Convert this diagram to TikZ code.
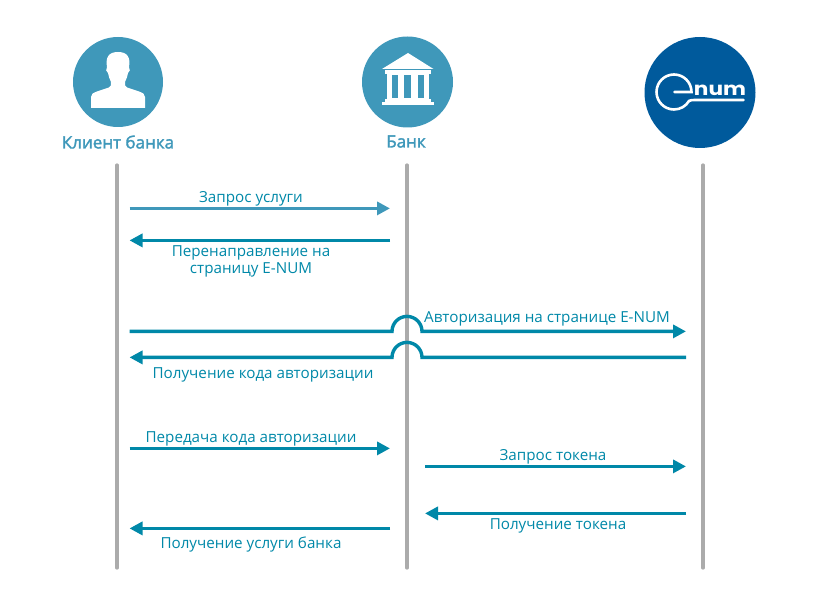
\documentclass[tikz,border=0pt]{standalone}
\usepackage{fontspec}
\setmainfont{Open Sans}
\newfontfamily\logofont{Poppins}
\newfontfamily\headfont[FakeBold=2]{Open Sans}
\usetikzlibrary{arrows.meta}
\definecolor{headblue}{HTML}{3F98BA}
\definecolor{flowteal}{HTML}{0088A8}
\definecolor{enumblue}{HTML}{005A9C}
\definecolor{lifegray}{HTML}{ABABAB}
\tikzset{
  lifeline/.style={draw=lifegray,line width=3.2pt,line cap=round},
  flow/.style={draw=flowteal,line width=3.4pt,-{Triangle[length=13pt,width=13pt]}},
  flowlight/.style={draw=headblue,line width=3.4pt,-{Triangle[length=13pt,width=13pt]}},
  msg/.style={text=flowteal,font=\fontsize{15.2}{16.5}\selectfont,align=center,inner sep=0pt},
  head/.style={text=headblue,font=\headfont\fontsize{17}{20}\selectfont,inner sep=0pt},
  disc/.style={circle,inner sep=0pt,minimum size=#1},
}
\begin{document}
\begin{tikzpicture}[x=1pt,y=-1pt]
\useasboundingbox (0,0) rectangle (840,612);
% heads
\node[disc=90pt,fill=headblue] (client) at (118,82) {};
\node[disc=91pt,fill=headblue] (bank) at (407.5,82) {};
\node[disc=111pt,fill=enumblue] (enum) at (700,92.5) {};
\node[head] (clientlabel) at (118,142) {Клиент банка};
\node[head] (banklabel) at (406,141.5) {Банк};
% person icon
\fill[white] (91,108) -- (91,97) .. controls (91,94) and (93,93) .. (97,91.5)
  -- (109,87.5) .. controls (111,86.5) and (111.3,85) .. (111,82)
  .. controls (109.5,79) and (108.5,76) .. (108,73)
  .. controls (106,72) and (105.5,69) .. (107,67)
  .. controls (105.5,58) and (108,52) .. (118,52)
  .. controls (128,52) and (130.5,58) .. (129,67)
  .. controls (130.5,69) and (130,72) .. (128,73)
  .. controls (127.5,76) and (126.5,79) .. (125,82)
  .. controls (124.7,85) and (125,86.5) .. (127,87.5)
  -- (139,91.5) .. controls (143,93) and (145,94) .. (145,97) -- (145,108) -- cycle;
% bank icon
\fill[white] (408,53) -- (433.5,69) -- (382,69) -- cycle;
\fill[white] (385,70.5) rectangle (431,74);
\fill[white] (387,74) rectangle (429,99);
\foreach \xa/\xb in {392/397.5,404/411,418/424}{\fill[headblue] (\xa,75.5) rectangle (\xb,98);}
\fill[white] (385,99) rectangle (431,102);
\fill[white] (382,102) rectangle (434,105);
% enum logo
\draw[white,line width=2.6pt,line cap=round] (674.5,92) -- (691.5,92)
  arc[start angle=0,end angle=-330,radius=17.5];
\draw[white,line width=2.6pt,line cap=round] (689,101) .. controls (691,100) and (692,100) .. (695,100) -- (743.5,100);
\node[text=white,font=\logofont\bfseries\fontsize{18.5}{20}\selectfont,inner sep=0pt,anchor=base,xscale=1.17] (enumtext) at (720,95.5) {num};
% lifelines
\coordinate (l1t) at (117,165); \coordinate (l1b) at (117,568);
\coordinate (l2t) at (407,165); \coordinate (l2b) at (407,568);
\coordinate (l3t) at (703,165); \coordinate (l3b) at (703,568);
\draw[lifeline] (l1t) -- (l1b);
\draw[lifeline] (l2t) -- (l2b);
\draw[lifeline] (l3t) -- (l3b);
% anchors
\foreach \n/\x in {a/129.5,b/390,c/425,d/686,u/392,v/422}{
  \foreach \y in {208,240,331,357,448,466,513,528}{
    \coordinate (\n\y) at (\x,\y+0.4);
  }
}
\draw[flowlight] (a208) -- (b208);
\draw[flow] (b240) -- (a240);
\draw[flow] (a331) -- (u331) arc[start angle=180,end angle=360,radius=15] -- (d331);
\draw[flow] (d357) -- (v357) arc[start angle=360,end angle=180,radius=15] -- (a357);
\draw[flow] (a448) -- (b448);
\draw[flow] (c466) -- (d466);
\draw[flow] (d513) -- (c513);
\draw[flow] (b528) -- (a528);
% labels
\node[msg] (m1) at (251,198.8) {Запрос услуги};
\node[msg] (m2) at (251,261.6) {Перенаправление на\\страницу E-NUM};
\node[msg] (m3) at (547,318.8) {Авторизация на странице E-NUM};
\node[msg] (m4) at (263,374.8) {Получение кода авторизации};
\node[msg] (m5) at (251,438.8) {Передача кода авторизации};
\node[msg] (m6) at (553,456.8) {Запрос токена};
\node[msg] (m7) at (558,525.8) {Получение токена};
\node[msg] (m8) at (251,544.8) {Получение услуги банка};
\end{tikzpicture}
\end{document}
